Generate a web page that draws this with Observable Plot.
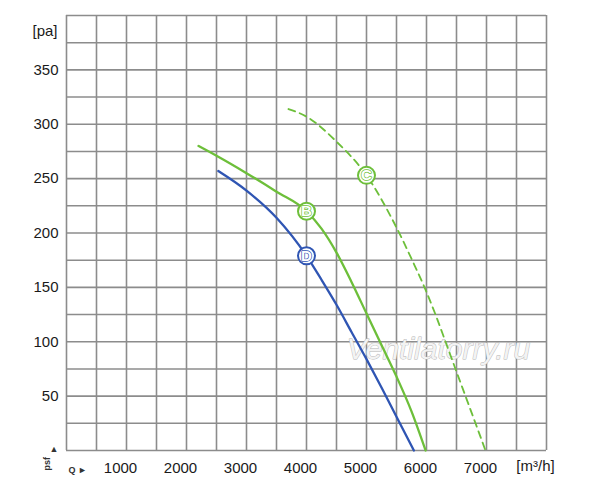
<!DOCTYPE html>
<html><head><meta charset="utf-8">
<script src="https://cdn.jsdelivr.net/npm/d3@7"></script>
<script src="https://cdn.jsdelivr.net/npm/@observablehq/plot@0.6"></script>
<style>body{margin:0;background:#fff;} #chart svg{display:block;}</style>
</head><body><div id="chart"></div>
<script>
// Curve D (blue)
const qD = [2530, 3000, 3500, 4000, 4250, 4500, 4750, 5000, 5250, 5500, 5790];
const pD = [257, 239, 214, 179, 157, 134, 109, 84, 58, 31, 0];
// Curve B (green solid)
const qB = [2200, 2500, 3000, 3500, 4000, 4250, 4500, 4750, 5000, 5250, 5500, 5750, 5985];
const pB = [280, 271, 255, 238, 220, 204, 182, 155, 126, 97, 68, 36, 0];
// Curve C (green dashed)
const qC = [3700, 4000, 4500, 5000, 5500, 5761, 5967, 6150, 6317, 6483, 6650, 6817, 6983];
const pC = [314, 307, 284, 253, 205, 175, 150, 125, 100, 75, 50, 25, 0];
// Curve markers
const markerLabels = ["B", "C", "D"];
const markerQ = [4000, 5000, 4000];
const markerP = [220, 253, 179];
const markerSeries = ["green", "green", "blue"];
// Axis ticks
const xTicks = [1000, 2000, 3000, 4000, 5000, 6000, 7000];
const yTicks = [50, 100, 150, 200, 250, 300, 350];
const xUnit = "[m³/h]";
const yUnit = "[pa]";
const watermark = "Ventilatorry.ru";

const BLUE = "#2f55b3";
const GREEN = "#6dbf3a";
const GRID = "#8c8c8c";
const FONT = "'Liberation Sans', Arial, sans-serif";

const toRows = (q, p) => q.map((v, i) => ({q: v, p: p[i]}));
const rowsD = toRows(qD, pD);
const rowsB = toRows(qB, pB);
const rowsC = toRows(qC, pC);
const markers = markerLabels.map((l, i) => ({label: l, q: markerQ[i], p: markerP[i], color: markerSeries[i] === "blue" ? BLUE : GREEN}));

const chart = Plot.plot({
  width: 600,
  height: 495,
  marginLeft: 66,
  marginRight: 54,
  marginTop: 15,
  marginBottom: 45,
  style: {fontFamily: FONT, fontSize: "15px", color: "#1a1a1a", background: "#fff"},
  x: {domain: [0, 8000]},
  y: {domain: [0, 400]},
  marks: [
    Plot.gridX(d3.range(0, 8001, 500), {stroke: GRID, strokeOpacity: 1, strokeWidth: 1.6}),
    Plot.gridY(d3.range(0, 401, 25), {stroke: GRID, strokeOpacity: 1, strokeWidth: 1.6}),
    Plot.text([watermark], {frameAnchor: "right", textAnchor: "middle", dx: -108, dy: 116, text: d => d, fill: "#f3f3f3", stroke: "#b4b4b4", strokeWidth: 0.9, fontSize: 30, fontStyle: "italic", fontFamily: FONT}),
    Plot.axisX(xTicks, {tickSize: 0, tickPadding: 12, dx: -6, fontSize: 15, label: null, tickFormat: d => String(d)}),
    Plot.axisY(yTicks, {tickSize: 0, tickPadding: 8, fontSize: 15, label: null, tickFormat: d => String(d)}),
    Plot.text([xUnit], {frameAnchor: "bottom-right", text: d => d, dx: -11, dy: 20, textAnchor: "middle", fontSize: 15, fill: "#1a1a1a"}),
    Plot.text([yUnit], {frameAnchor: "top-left", text: d => d, dx: -9, dy: 10, textAnchor: "end", fontSize: 15, fill: "#1a1a1a"}),
    Plot.text(["psf"], {frameAnchor: "bottom-left", text: d => d, dx: -17, dy: 20, rotate: -90, fontSize: 9, fontWeight: "bold", fill: "#333"}),
    Plot.text(["▲"], {frameAnchor: "bottom-left", text: d => d, dx: -17, dy: 1, fontSize: 9, fill: "#333"}),
    Plot.text(["Q ►"], {frameAnchor: "bottom-left", text: d => d, dx: 2, dy: 22, textAnchor: "start", fontSize: 9, fontWeight: "bold", fill: "#333"}),
    Plot.line(rowsD, {x: "q", y: "p", stroke: BLUE, strokeWidth: 2.3, curve: "monotone-x"}),
    Plot.line(rowsB, {x: "q", y: "p", stroke: GREEN, strokeWidth: 2.3, curve: "monotone-x"}),
    Plot.line(rowsC, {x: "q", y: "p", stroke: GREEN, strokeWidth: 1.8, strokeDasharray: "7,5", curve: "monotone-x"}),
    Plot.dot(markers, {x: "q", y: "p", r: 8.5, fill: "white", stroke: "color", strokeWidth: 2}),
    Plot.text(markers, {x: "q", y: "p", text: "label", fill: "white", stroke: "color", strokeWidth: 1.4, fontSize: 15, fontWeight: "bold", fontFamily: FONT})
  ]
});
document.getElementById("chart").appendChild(chart);
</script>
</body></html>
